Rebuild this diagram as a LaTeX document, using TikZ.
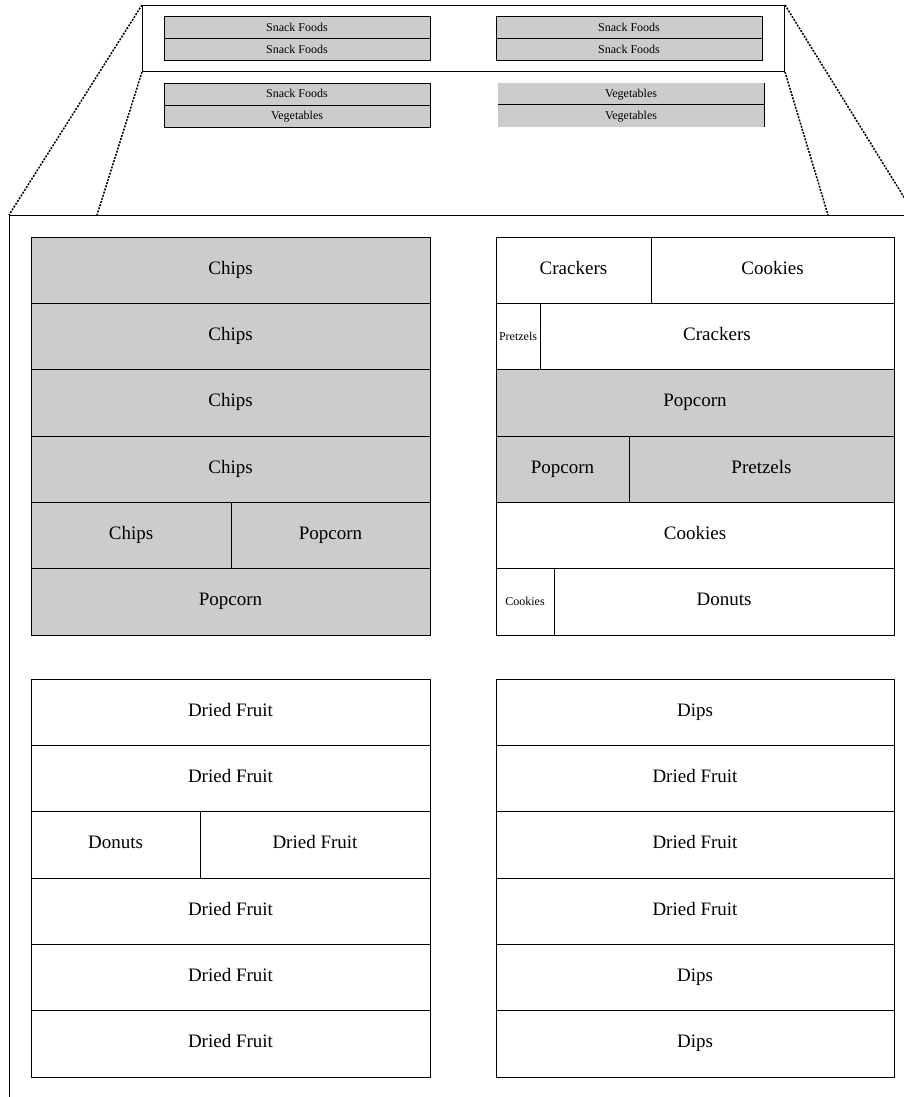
\documentclass[tikz,border=0pt]{standalone}
\usepackage{fontspec}
\setmainfont{Liberation Serif}
\usetikzlibrary{positioning}
\definecolor{cellgray}{RGB}{204,204,204}
\tikzset{
	cell/.style = {
			draw, rectangle, line width=1pt,
			anchor=north west, inner sep=0pt, outer sep=0pt,
			minimum height=66.33pt, text height=1em, text depth=0.2em,
			font=\fontsize{19}{22}\selectfont,
		},
	graycell/.style = {cell, fill=cellgray},
	smalltext/.style = {font=\fontsize{12}{14}\selectfont},
	minicell/.style = {
			draw, rectangle, line width=1pt, fill=cellgray,
			inner sep=0pt, outer sep=0pt, text height=0.9em, text depth=0.22em,
			minimum width=266pt, minimum height=22pt,
			font=\fontsize{12}{14}\selectfont,
		},
	zoomline/.style = {line width=1.5pt, dash pattern=on 2pt off 1.3pt},
	zoomframe/.style = {line width=1pt},
}

\begin{document}
\begin{tikzpicture}[x=1pt, y=-1pt]
	\useasboundingbox (0,0) rectangle (904,1097);
	\clip (0,0) rectangle (904,1097);

	% overview strip
	\node[draw, zoomframe, rectangle, anchor=north west, inner sep=0pt, minimum width=642pt, minimum height=66pt] at (142,5) (overview) {};

	\node[minicell, anchor=north west] at (164,17) (snackA1) {Snack Foods};
	\node[minicell, below=0pt of snackA1] (snackA2) {Snack Foods};
	\node[minicell, anchor=north west] at (496,17) (snackB1) {Snack Foods};
	\node[minicell, below=0pt of snackB1] (snackB2) {Snack Foods};

	\node[minicell, anchor=north west] at (164,83.5) (snackC1) {Snack Foods};
	\node[minicell, below=0pt of snackC1] (vegC2) {Vegetables};
	\node[minicell, draw=none, anchor=north west] at (498,83) (vegD1) {Vegetables};
	\node[minicell, draw=none, below=0pt of vegD1] (vegD2) {Vegetables};
	\draw[line width=1pt] (vegD1.north east) -- (vegD2.south east);
	\draw[line width=1pt] (vegD1.south west) -- (vegD1.south east);

	% zoomed frame
	\coordinate (bigNW) at (9,215);
	\coordinate (bigNE) at (915,215);
	\coordinate (zoomL) at (97,215);
	\coordinate (zoomR) at (828,215);
	\draw[zoomframe] (9,1120) -- (bigNW) -- (bigNE) -- (915,1120);

	\draw[zoomline] (overview.north west) -- (bigNW);
	\draw[zoomline] (overview.south west) -- (zoomL);
	\draw[zoomline] (overview.north east) -- (bigNE);
	\draw[zoomline] (overview.south east) -- (zoomR);

	% top left panel
	\foreach \i/\y in {1/237, 2/303.33, 3/369.67, 4/436}
		\node[graycell, minimum width=399pt] at (31,\y) (chips\i) {Chips};
	\node[graycell, minimum width=200pt] at (31,502.33) (chips5) {Chips};
	\node[graycell, minimum width=199pt] at (231,502.33) (popcornA5) {Popcorn};
	\node[graycell, minimum width=399pt] at (31,568.67) (popcornA6) {Popcorn};

	% top right panel
	\node[cell, minimum width=155pt] at (496,237) (crackersB1) {Crackers};
	\node[cell, minimum width=243pt] at (651,237) (cookiesB1) {Cookies};
	\node[cell, smalltext, minimum width=44pt] at (496,303.33) (pretzelsB2) {Pretzels};
	\node[cell, minimum width=354pt] at (540,303.33) (crackersB2) {Crackers};
	\node[graycell, minimum width=398pt] at (496,369.67) (popcornB3) {Popcorn};
	\node[graycell, minimum width=133pt] at (496,436) (popcornB4) {Popcorn};
	\node[graycell, minimum width=265pt] at (629,436) (pretzelsB4) {Pretzels};
	\node[cell, minimum width=398pt] at (496,502.33) (cookiesB5) {Cookies};
	\node[cell, smalltext, minimum width=58pt] at (496,568.67) (cookiesB6) {Cookies};
	\node[cell, minimum width=340pt] at (554,568.67) (donutsB6) {Donuts};

	% bottom left panel
	\foreach \i/\y in {1/679, 2/745.33, 4/878, 5/944.33, 6/1010.67}
		\node[cell, minimum width=399pt] at (31,\y) (fruitC\i) {Dried Fruit};
	\node[cell, minimum width=169pt] at (31,811.67) (donutsC3) {Donuts};
	\node[cell, minimum width=230pt] at (200,811.67) (fruitC3) {Dried Fruit};

	% bottom right panel
	\foreach \i/\y/\txt in {1/679/Dips, 2/745.33/Dried Fruit, 3/811.67/Dried Fruit, 4/878/Dried Fruit, 5/944.33/Dips, 6/1010.67/Dips}
		\node[cell, minimum width=398pt] at (496,\y) (dipsD\i) {\txt};
\end{tikzpicture}
\end{document}
